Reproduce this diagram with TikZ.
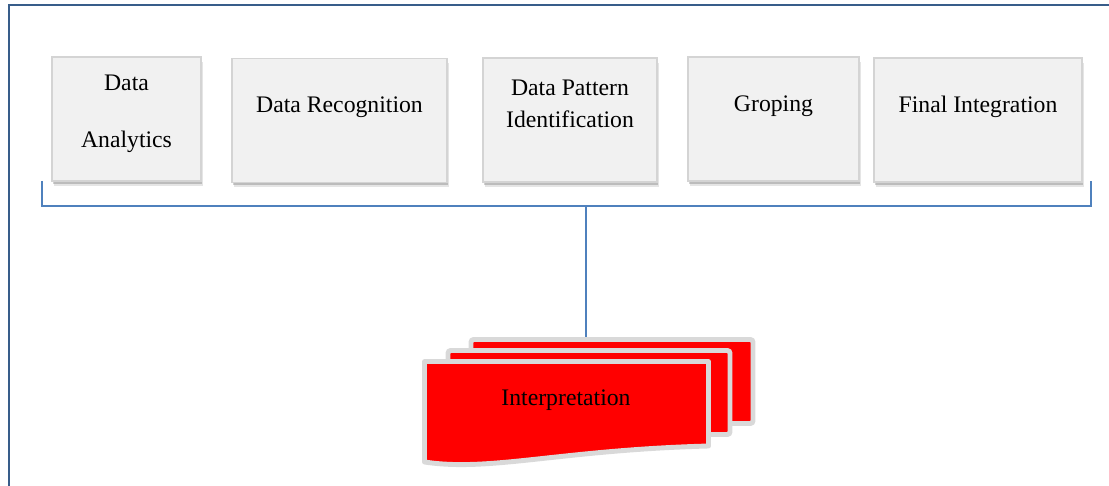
\documentclass[tikz,border=0pt]{standalone}
\usepackage{fontspec}
\setmainfont{Liberation Serif}
\usetikzlibrary{positioning,shadows,calc}
\definecolor{boxfill}{HTML}{F1F1F1}
\definecolor{boxedge}{HTML}{D4D4D4}
\definecolor{linkblue}{HTML}{4F81BD}
\definecolor{frameblue}{HTML}{385D8A}
\definecolor{pageedge}{HTML}{D9D9D9}

\begin{document}
\begin{tikzpicture}[x=0.02cm, y=-0.02cm,
    stepbox/.style={rectangle, draw=boxedge, line width=1.1pt, fill=boxfill, minimum height=2.48cm,
        drop shadow={shadow xshift=1.1pt, shadow yshift=-2.6pt, fill=black, opacity=0.10},
        drop shadow={shadow xshift=0.7pt, shadow yshift=-1.6pt, fill=black, opacity=0.18}},
    steptext/.style={anchor=base, inner sep=0pt, font=\fontsize{13.5}{16}\selectfont},
    pagedoc/.style={rectangle, draw=pageedge, fill=red, line width=2.8pt, rounded corners=1.5pt,
        minimum width=5.64cm, minimum height=1.68cm},
    frontdoc/.style={draw=pageedge, fill=red, line width=2.8pt, line join=round},
    bracketline/.style={draw=linkblue, line width=1.1pt},
    frameline/.style={draw=frameblue, line width=1.1pt},
]
    \useasboundingbox (0,0) rectangle (1109,486);

    % Outer frame (only top and left edges show)
    \draw[frameline] (9,495) -- (9,5) -- (1120,5);

    % Steps along the top
    \node[stepbox, minimum width=2.98cm] (da) at (126.5,119) {};
    \node[stepbox, minimum width=4.30cm] (dr) at (339.5,120.5) {};
    \node[stepbox, minimum width=3.48cm] (dp) at (570,120) {};
    \node[stepbox, minimum width=3.42cm] (gr) at (773.5,119) {};
    \node[stepbox, minimum width=4.16cm] (fi) at (978,120) {};

    \node[steptext] (daA) at (126.5,91) {Data};
    \node[steptext] (daB) at (126.5,148) {Analytics};
    \node[steptext] (drA) at (339.5,113) {Data Recognition};
    \node[steptext] (dpA) at (570,96) {Data Pattern};
    \node[steptext] (dpB) at (570,128) {Identification};
    \node[steptext] (grA) at (773.5,112) {Groping};
    \node[steptext] (fiA) at (978,113) {Final Integration};

    % Stacked documents
    \node[pagedoc] (docC) at (612,381.5) {};
    \node[pagedoc] (docB) at (589,392.5) {};
    \draw[frontdoc] (424.5,361.5) -- (708.5,361.5) -- (708.5,446)
        .. controls (560,450) and (490,472) .. (424.5,462) -- cycle;
    \node[steptext] (interp) at (566,405) {Interpretation};

    % Bracket joining the steps to the documents
    \coordinate (brL) at (42,181);
    \coordinate (brR) at (1091,181);
    \coordinate (brM) at (586,206);
    \draw[bracketline] (brL) -- ++(0,25) -| (brR);
    \draw[bracketline] (brM) -- (brM |- docC.north);
\end{tikzpicture}
\end{document}
